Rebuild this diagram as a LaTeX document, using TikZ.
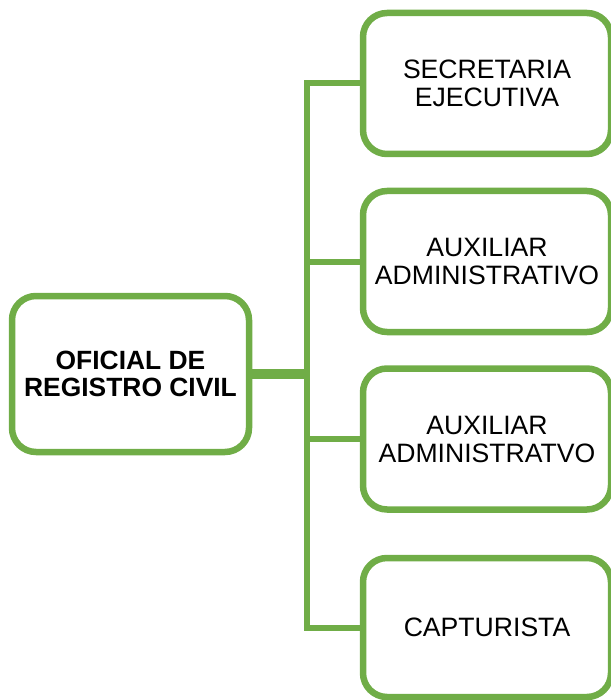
\documentclass[tikz,border=0pt]{standalone}
\usepackage{fontspec}
\setmainfont{Liberation Sans}
\definecolor{orggreen}{HTML}{70AD47}
\begin{document}
\begin{tikzpicture}[x=1pt, y=-1pt, every node/.style={rectangle, rounded corners=24pt, draw=orggreen, line width=6.5pt, align=center, font=\fontsize{26.6}{28}\selectfont, inner sep=0pt}, line join=miter]

\tikzstyle{jefe}=[minimum width=237pt, minimum height=156pt, font=\fontsize{26.4}{27}\selectfont\bfseries]
\tikzstyle{puesto}=[minimum width=248pt, minimum height=141pt]
\tikzstyle{rama}=[draw=orggreen, line width=6pt]

\useasboundingbox (0,0) rectangle (610,700);

\node[jefe] (oficial) at (130.5,374) {OFICIAL DE\\REGISTRO CIVIL};

\node[puesto] (secretaria) at (487,83.5) {SECRETARIA\\EJECUTIVA};
\node[puesto] (auxiliar1) at (487,261.5) {AUXILIAR\\ADMINISTRATIVO};
\node[puesto] (auxiliar2) at (487,439) {AUXILIAR\\ADMINISTRATVO};
\node[puesto, minimum height=139pt] (capturista) at (487,627.5) {CAPTURISTA};

\coordinate (bus) at (306.5,374);

\draw[rama, line width=10pt] (oficial.east) -- (bus);
\foreach \p in {secretaria, auxiliar1, auxiliar2, capturista}
   \draw[rama] (bus) |- (\p.west);
\end{tikzpicture}
\end{document}
